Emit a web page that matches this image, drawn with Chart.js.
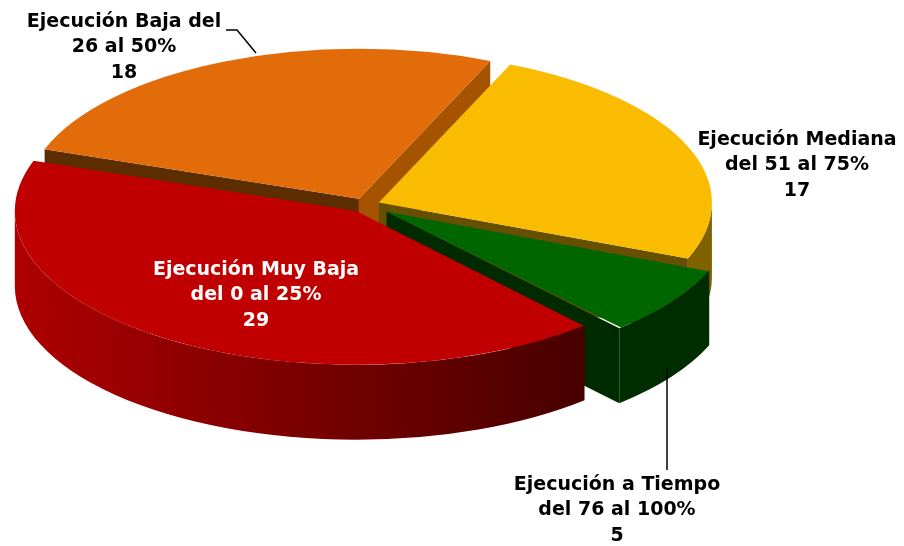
<!DOCTYPE html>
<html>
<head>
<meta charset="utf-8">
<script src="https://cdn.jsdelivr.net/npm/chart.js@4.4.1/dist/chart.umd.min.js"></script>
<style>
  html, body { margin: 0; padding: 0; background: #fff; }
  #wrap { width: 904px; height: 546px; }
</style>
</head>
<body>
<div id="wrap"><canvas id="pie3d"></canvas></div>
<script>
// data
const categories = [
  ['Ejecución Muy Baja', 'del 0 al 25%'],
  ['Ejecución Baja del', '26 al 50%'],
  ['Ejecución Mediana', 'del 51 al 75%'],
  ['Ejecución a Tiempo', 'del 76 al 100%']
];
const counts = [29, 18, 17, 5];

const topColors = ['#C00000', '#E36C0A', '#F9BC00', '#006600'];
const explode = [34, 32, 32, 56];
// colours of the 3d walls: outer wall (left -> right), start face, end face
const sideColors = [
  { wall: ['#AE0000', '#470000'], start: '#480000', end: '#480000' },
  { wall: ['#8A4200', '#8A4200'], start: '#5C2D00', end: '#A65300' },
  { wall: ['#806100', '#806100'], start: '#7A5D00', end: '#664F00' },
  { wall: ['#002D00', '#002D00'], start: '#003500', end: '#002A00' }
];

// same offset / radius maths as Chart.js ArcElement.draw
function sliceGeom(arc) {
  const o = (arc.options.offset || 0) / 4;
  const mid = (arc.startAngle + arc.endAngle) / 2;
  const fix = 1 - Math.sin(Math.min(Math.PI, arc.endAngle - arc.startAngle));
  return {
    x: arc.x + Math.cos(mid) * o,
    y: arc.y + Math.sin(mid) * o,
    r: arc.outerRadius + o * fix,
    a0: arc.startAngle,
    a1: arc.endAngle,
    mid: mid
  };
}

function drawFace(ctx, g, a, h, color) {
  const px = g.x + g.r * Math.cos(a), py = g.y + g.r * Math.sin(a);
  ctx.beginPath();
  ctx.moveTo(g.x, g.y);
  ctx.lineTo(px, py);
  ctx.lineTo(px, py + h);
  ctx.lineTo(g.x, g.y + h);
  ctx.closePath();
  ctx.fillStyle = color;
  ctx.fill();
}

function drawWall(ctx, g, lo, hi, h, colors) {
  const xl = g.x + g.r * Math.cos(hi), xr = g.x + g.r * Math.cos(lo);
  const grad = ctx.createLinearGradient(Math.min(xl, xr), 0, Math.max(xl, xr) + 0.01, 0);
  grad.addColorStop(0, colors[0]);
  grad.addColorStop(1, colors[1]);
  ctx.beginPath();
  ctx.arc(g.x, g.y, g.r, lo, hi);
  ctx.arc(g.x, g.y + h, g.r, hi, lo, true);
  ctx.closePath();
  ctx.fillStyle = grad;
  ctx.fill();
}

const tiltPlugin = {
  id: 'tilt',
  beforeDatasetsDraw(chart, args, opts) {
    const ctx = chart.ctx;
    const arcs = chart.getDatasetMeta(0).data;
    const c = arcs[0];
    const sx = opts.rx / c.outerRadius, sy = opts.ry / c.outerRadius;
    const h = opts.depth / sy;
    ctx.save();
    ctx.translate(c.x, c.y);
    ctx.scale(sx, sy);
    ctx.translate(-c.x, -c.y);
    const geoms = arcs.map(sliceGeom);
    const order = geoms.map((g, i) => i).sort((i, j) => Math.sin(geoms[i].mid) - Math.sin(geoms[j].mid));
    order.forEach(i => {
      const g = geoms[i];
      const st = sideColors[i];
      if (Math.cos(g.a0) < 0) drawFace(ctx, g, g.a0, h, st.start);
      if (Math.cos(g.a1) > 0) drawFace(ctx, g, g.a1, h, st.end);
      [0, 2 * Math.PI].forEach(base => {
        const lo = Math.max(g.a0, base), hi = Math.min(g.a1, base + Math.PI);
        if (hi > lo) drawWall(ctx, g, lo, hi, h, st.wall);
      });
    });
    // the tops are drawn by Chart.js under this transform
  },
  afterDatasetsDraw(chart, args, opts) {
    const ctx = chart.ctx;
    ctx.restore();

    ctx.save();
    ctx.strokeStyle = '#000';
    ctx.lineWidth = 1.5;
    opts.leaders.forEach(pts => {
      ctx.beginPath();
      pts.forEach((p, k) => k ? ctx.lineTo(p[0], p[1]) : ctx.moveTo(p[0], p[1]));
      ctx.stroke();
    });

    ctx.font = 'bold 19px "DejaVu Sans"';
    ctx.textAlign = 'center';
    ctx.textBaseline = 'middle';
    const ds = chart.data.datasets[0];
    chart.data.labels.forEach((lab, i) => {
      const pos = opts.labels[i];
      const lines = lab.concat(String(ds.data[i]));
      ctx.fillStyle = pos.color;
      lines.forEach((t, k) => ctx.fillText(t, pos.x, pos.y + k * 25.5));
    });
    ctx.restore();
  }
};

new Chart(document.getElementById('pie3d'), {
  type: 'pie',
  data: {
    labels: categories,
    datasets: [{
      data: counts,
      backgroundColor: topColors,
      borderWidth: 0,
      offset: explode
    }]
  },
  options: {
    responsive: true,
    maintainAspectRatio: false,
    animation: false,
    rotation: 138,
    layout: { padding: { left: 0, right: 174, top: 0, bottom: 136 } },
    plugins: {
      legend: { display: false },
      tooltip: { enabled: false },
      tilt: {
        rx: 333,
        ry: 150,
        depth: 75,
        labels: [
          { x: 256, y: 270, color: '#fff' },
          { x: 124, y: 22, color: '#000' },
          { x: 797, y: 140, color: '#000' },
          { x: 617, y: 485, color: '#000' }
        ],
        leaders: [
          [[226, 30], [237, 30], [256, 53]],
          [[667, 368], [667, 470]]
        ]
      }
    }
  },
  plugins: [tiltPlugin]
});
</script>
</body>
</html>
